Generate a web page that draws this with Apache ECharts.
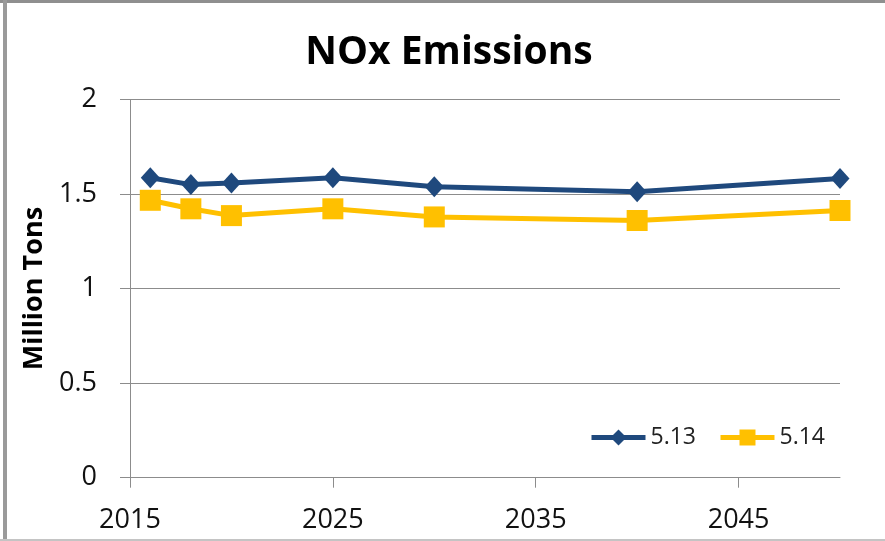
<!DOCTYPE html>
<html>
<head>
<meta charset="utf-8">
<script src="https://cdn.jsdelivr.net/npm/echarts@6/dist/echarts.min.js"></script>
<style>
  html, body { margin: 0; padding: 0; background: #fff; }
  #myCharts { width: 885px; height: 541px; }
</style>
</head>
<body>
<div id="myCharts"></div>
<script>
  // 数据
  var years = [2016, 2018, 2020, 2025, 2030, 2040, 2050];
  var s513 = [1.586, 1.55, 1.559, 1.586, 1.538, 1.512, 1.582];
  var s514 = [1.467, 1.422, 1.386, 1.422, 1.379, 1.36, 1.413];
  var xTicks = [2015, 2025, 2035, 2045];
  var seriesNames = ['5.13', '5.14'];

  function pairs(xs, ys) {
    return xs.map(function (x, i) { return [x, ys[i]]; });
  }

  var myCharts = echarts.init(document.getElementById('myCharts'));
  var font = 'Open Sans';
  var option = {
    animation: false,
    title: {
      text: 'NOx Emissions',
      left: 444,
      textAlign: 'center',
      top: 28,
      textStyle: { fontFamily: font, fontSize: 39, fontWeight: 'bold', color: '#000' }
    },
    legend: {
      data: seriesNames,
      left: 589,
      top: 426,
      padding: 0,
      itemWidth: 54,
      itemHeight: 20,
      itemGap: 22,
      lineStyle: { width: 5 },
      textStyle: { fontFamily: font, fontSize: 23, color: '#222' }
    },
    grid: {
      left: 130,
      right: 45,
      top: 99.5,
      bottom: 63.3
    },
    xAxis: {
      type: 'value',
      min: 2015,
      max: 2050,
      axisLine: { lineStyle: { color: '#8c8c8c', width: 1 } },
      axisTick: { show: true, length: 10, customValues: xTicks, lineStyle: { color: '#8c8c8c' } },
      axisLabel: {
        customValues: xTicks, margin: 29, fontFamily: font, fontSize: 27, color: '#111',
        formatter: function (v) { return String(v); }
      },
      splitLine: { show: false }
    },
    yAxis: {
      type: 'value',
      min: 0,
      max: 2,
      interval: 0.5,
      name: 'Million Tons',
      nameLocation: 'middle',
      nameRotate: 90,
      nameGap: 80,
      nameTextStyle: { fontFamily: font, fontSize: 27, fontWeight: 'bold', color: '#000' },
      axisLine: { show: true, lineStyle: { color: '#8c8c8c', width: 1 } },
      axisTick: { show: true, length: 10, lineStyle: { color: '#8c8c8c' } },
      axisLabel: { margin: 33, fontFamily: font, fontSize: 27, color: '#111' },
      splitLine: { lineStyle: { color: '#8c8c8c', width: 1 } }
    },
    series: [{
        name: seriesNames[0],
        type: 'line',
        data: pairs(years, s513),
        symbol: 'diamond',
        symbolSize: [19, 21],
        lineStyle: { color: '#1F497D', width: 5 },
        itemStyle: { color: '#1F497D' }
      },
      {
        name: seriesNames[1],
        type: 'line',
        data: pairs(years, s514),
        symbol: 'rect',
        symbolSize: 21,
        lineStyle: { color: '#FFC000', width: 5 },
        itemStyle: { color: '#FFC000' }
      }
    ],
    graphic: [
      { type: 'rect', shape: { x: 0, y: 0, width: 885, height: 3 }, style: { fill: '#8f8f8f' } },
      { type: 'rect', shape: { x: 3, y: 0, width: 4, height: 541 }, style: { fill: '#9a9a9a' } },
      { type: 'rect', shape: { x: 0, y: 539, width: 885, height: 2 }, style: { fill: '#c4c4c4' } }
    ]
  };
  myCharts.setOption(option);
</script>
</body>
</html>
